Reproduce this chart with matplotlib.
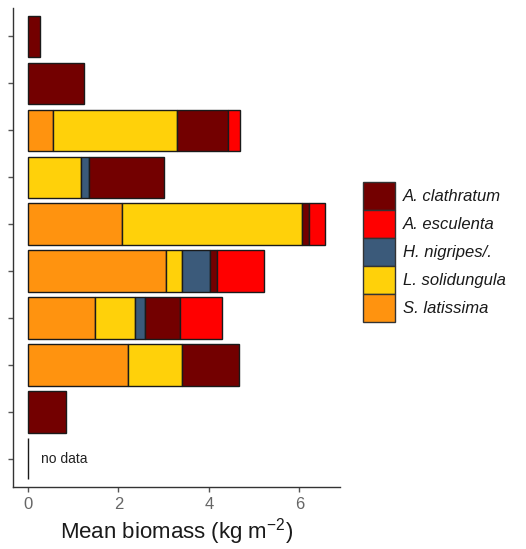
import numpy as np
import matplotlib
matplotlib.use("Agg")
import matplotlib.pyplot as plt
from matplotlib.patches import Patch

plt.rcParams['font.family'] = ['Liberation Sans', 'DejaVu Sans']
plt.rcParams['mathtext.fontset'] = 'custom'
plt.rcParams['mathtext.rm'] = 'Liberation Sans'

# rows from top to bottom (no labels on the y axis in the original)
rows = ['r1', 'r2', 'r3', 'r4', 'r5', 'r6', 'r7', 'r8', 'r9', 'r10']

# biomass per species, kg m-2 (stacking order left to right)
s_latissima   = [0.00, 0.00, 0.56, 0.00, 2.07, 3.05, 1.49, 2.22, 0.00, 0.0]
l_solidungula = [0.00, 0.00, 2.74, 1.18, 3.99, 0.36, 0.87, 1.19, 0.00, 0.0]
h_nigripes    = [0.00, 0.00, 0.00, 0.17, 0.00, 0.61, 0.22, 0.00, 0.00, 0.0]
a_clathratum  = [0.26, 1.24, 1.13, 1.66, 0.15, 0.16, 0.78, 1.25, 0.85, 0.0]
a_esculenta   = [0.00, 0.00, 0.27, 0.00, 0.35, 1.05, 0.94, 0.00, 0.00, 0.0]

species = ['S. latissima', 'L. solidungula', 'H. nigripes/.', 'A. clathratum', 'A. esculenta']
values = [s_latissima, l_solidungula, h_nigripes, a_clathratum, a_esculenta]
colors = ['#FF930F', '#FFD10A', '#3B5A7A', '#730000', '#FF0000']

legend_order = ['A. clathratum', 'A. esculenta', 'H. nigripes/.', 'L. solidungula', 'S. latissima']

fig = plt.figure(figsize=(5.26, 5.49), dpi=100)
ax = fig.add_axes([0.0247, 0.113, 0.6216, 0.872])

y = np.arange(1, len(rows) + 1)
left = np.zeros(len(rows))
for name, vals, col in zip(species, values, colors):
    vals = np.array(vals)
    keep = vals > 0
    ax.barh(y[keep], vals[keep], left=left[keep], height=0.88, color=col,
            edgecolor='#1a1a1a', linewidth=1.0)
    left = left + vals

# "no data" row drawn as a zero width bar
ax.barh(y[-1], 0, height=0.88, color='none', edgecolor='#1a1a1a', linewidth=1.0)
ax.text(0.3, y[-1], 'no data', va='center', ha='left', fontsize=10, color='#222222')

ax.set_ylim(len(rows) + 0.6, 0.4)
ax.set_xlim(-0.33, 6.9)
ax.set_xticks([0, 2, 4, 6])
ax.set_yticks(y)
ax.set_yticklabels([])
ax.tick_params(axis='both', colors='#555555', length=3.5, width=1)
ax.tick_params(axis='x', labelsize=12, labelcolor='#666666', pad=4)
for s in ['top', 'right']:
    ax.spines[s].set_visible(False)
for s in ['left', 'bottom']:
    ax.spines[s].set_color('#333333')
    ax.spines[s].set_linewidth(1.0)
ax.set_xlabel('Mean biomass (kg m$^{-2}$)', fontsize=16, color='#1a1a1a', labelpad=3)

handles = [Patch(facecolor=colors[species.index(n)], edgecolor='#333333', linewidth=1.0)
           for n in legend_order]
leg = fig.legend(handles, legend_order, loc='center left', bbox_to_anchor=(0.677, 0.541),
                 frameon=False, fontsize=12, handlelength=1.92, handleheight=2.2,
                 labelspacing=0.0, handletextpad=0.5, borderaxespad=0)
for t in leg.get_texts():
    t.set_fontstyle('italic')
    t.set_color('#1a1a1a')

fig.savefig('out.png', dpi=100)
